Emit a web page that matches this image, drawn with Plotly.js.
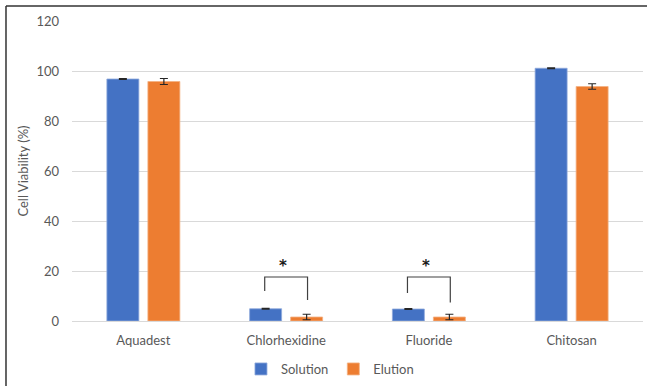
<!DOCTYPE html>
<html>
<head>
<meta charset="utf-8">
<script src="https://cdn.plot.ly/plotly-3.0.1.min.js"></script>
<style>html,body{margin:0;padding:0;background:#fff;}#chart{width:647px;height:386px;}</style>
</head>
<body>
<div id="chart"></div>
<script>
const categories = ["Aquadest", "Chlorhexidine", "Fluoride", "Chitosan"];
const solutionValues = [96.8, 4.9, 4.8, 101.1];
const solutionErrors = [0.2, 0.2, 0.2, 0.2];
const elutionValues = [95.8, 1.6, 1.6, 93.8];
const elutionErrors = [1.2, 1.1, 1.1, 1.1];
const yTicks = [0, 20, 40, 60, 80, 100, 120];
// significance brackets: category index, top, left-leg bottom, right-leg bottom, star height
const sigCategories = [1, 2];
const sigTops = [17.6, 17.6];
const sigLeftBottoms = [12, 11.2];
const sigRightBottoms = [8.4, 7.4];
const sigStarY = [22, 22];

const font = "Lato, 'Open Sans', sans-serif";
const traces = [
  {type: "bar", name: "Solution", x: categories, y: solutionValues,
   marker: {color: "#4472C4", line: {color: "#8FAADC", width: 0.8}},
   error_y: {type: "data", array: solutionErrors, visible: true, color: "#262626", thickness: 1.2, width: 4}},
  {type: "bar", name: "Elution", x: categories, y: elutionValues,
   marker: {color: "#ED7D31", line: {color: "#F4B183", width: 0.8}},
   error_y: {type: "data", array: elutionErrors, visible: true, color: "#262626", thickness: 1.2, width: 4}}
];

const shapes = [
  {type: "line", xref: "paper", yref: "paper", x0: -0.1156, x1: 1.01, y0: 1.05, y1: 1.05, line: {color: "#333", width: 1.5}},
  {type: "line", xref: "paper", yref: "paper", x0: -0.1156, x1: -0.1156, y0: 1.05, y1: -0.22, line: {color: "#333", width: 1.5}}
];
const annotations = [];
sigCategories.forEach((c, i) => {
  const xl = c - 0.15, xr = c + 0.15;
  shapes.push({type: "path", xref: "x", yref: "y",
    path: `M ${xl} ${sigLeftBottoms[i]} L ${xl} ${sigTops[i]} L ${xr} ${sigTops[i]} L ${xr} ${sigRightBottoms[i]}`,
    line: {color: "#404040", width: 1.2}});
  annotations.push({xref: "x", yref: "y", x: c - 0.02, y: sigStarY[i], text: "<b>*</b>",
    showarrow: false, font: {family: "DejaVu Sans, sans-serif", size: 15, color: "#1a1a1a"}, yanchor: "middle"});
});

const layout = {
  width: 647, height: 386,
  margin: {l: 72, r: 4, t: 21, b: 65},
  paper_bgcolor: "#fff", plot_bgcolor: "#fff",
  barmode: "group", bargap: 0.4255, bargroupgap: 0.22,
  font: {family: font, size: 13, color: "#595959"},
  xaxis: {type: "category", showgrid: false, zeroline: false, showline: false, ticks: "",
    automargin: false, ticklabelstandoff: 10,
    tickfont: {family: font, size: 13, color: "#595959"}},
  yaxis: {range: [0, 120], tickvals: yTicks, showgrid: true, gridcolor: "#D9D9D9", gridwidth: 1,
    zeroline: true, zerolinecolor: "#D9D9D9", zerolinewidth: 1, showline: false, ticks: "",
    automargin: false, ticklabelstandoff: 12,
    tickfont: {family: font, size: 13, color: "#595959"},
    title: {text: "Cell Viability (%)", font: {family: font, size: 13, color: "#595959"}, standoff: 4}},
  showlegend: true,
  legend: {orientation: "h", xref: "container", yref: "container", x: 0.51, xanchor: "center",
    y: 0.044, yanchor: "middle",
    font: {family: font, size: 13, color: "#595959"}, itemwidth: 30, tracegroupgap: 0},
  shapes: shapes, annotations: annotations
};
Plotly.newPlot("chart", traces, layout, {displayModeBar: false, staticPlot: true});
</script>
</body>
</html>
